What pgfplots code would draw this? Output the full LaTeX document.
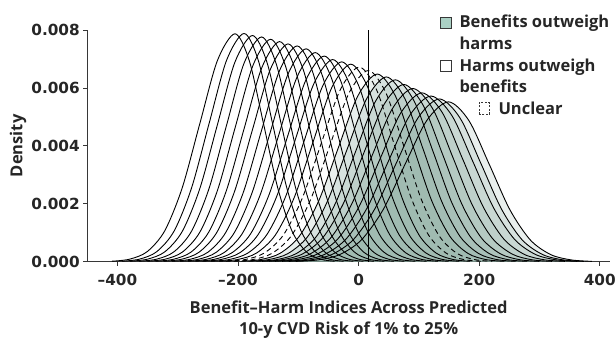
\documentclass[border=0pt]{standalone}
\usepackage{fontspec}
\setmainfont{Open Sans}
\newfontfamily\tickfont{DejaVu Sans}
\usepackage{pgfplots}
\usepackage{pgfplotstable}
\pgfplotsset{compat=1.18}
\definecolor{bfill}{RGB}{145,176,165}
\definecolor{legfill}{RGB}{170,208,196}
\definecolor{axgray}{RGB}{55,55,55}
\newcommand\lf{\fontsize{16.5}{21.5}\selectfont\bfseries}
\newcommand\tf{\tickfont\fontsize{15.3}{18}\selectfont\bfseries}

% harms outweigh benefits
\pgfplotstableread{
x y
-409.1 0.000017
-379.9 0.000087
-350.8 0.000345
-321.6 0.001065
-292.5 0.002555
-263.3 0.004773
-234.2 0.006945
-205.0 0.007870
-181.4 0.006945
-157.8 0.004773
-134.2 0.002555
-110.6 0.001065
-87.0 0.000345
-63.4 0.000087
-39.8 0.000017
}\dA
\pgfplotstableread{
x y
-392.7 0.000017
-363.7 0.000087
-334.8 0.000346
-305.8 0.001066
-276.9 0.002559
-247.9 0.004779
-219.0 0.006954
-190.0 0.007880
-166.4 0.006954
-142.8 0.004779
-119.2 0.002559
-95.6 0.001066
-72.0 0.000346
-48.4 0.000087
-24.8 0.000017
}\dB
\pgfplotstableread{
x y
-379.4 0.000017
-350.3 0.000087
-321.3 0.000343
-292.2 0.001057
-263.2 0.002536
-234.1 0.004737
-205.1 0.006892
-176.0 0.007810
-152.1 0.006892
-128.2 0.004737
-104.3 0.002536
-80.4 0.001057
-56.5 0.000343
-32.6 0.000087
-8.7 0.000017
}\dC
\pgfplotstableread{
x y
-364.4 0.000017
-335.3 0.000086
-306.3 0.000341
-277.2 0.001050
-248.2 0.002520
-219.1 0.004706
-190.1 0.006848
-161.0 0.007760
-136.9 0.006848
-112.7 0.004706
-88.6 0.002520
-64.4 0.001050
-40.3 0.000341
-16.1 0.000086
8.1 0.000017
}\dD
\pgfplotstableread{
x y
-350.4 0.000017
-321.2 0.000085
-292.0 0.000337
-262.8 0.001039
-233.6 0.002494
-204.4 0.004658
-175.2 0.006778
-146.0 0.007680
-121.6 0.006778
-97.1 0.004658
-72.7 0.002494
-48.2 0.001039
-23.8 0.000337
0.7 0.000085
25.2 0.000017
}\dE
\pgfplotstableread{
x y
-336.5 0.000017
-307.1 0.000084
-277.8 0.000334
-248.4 0.001028
-219.1 0.002468
-189.7 0.004609
-160.4 0.006707
-131.0 0.007600
-106.2 0.006707
-81.4 0.004609
-56.6 0.002468
-31.8 0.001028
-7.0 0.000334
17.8 0.000084
42.6 0.000017
}\dF
\pgfplotstableread{
x y
-323.5 0.000016
-294.0 0.000083
-264.5 0.000330
-235.0 0.001017
-205.5 0.002442
-176.0 0.004561
-146.5 0.006636
-117.0 0.007520
-91.9 0.006636
-66.8 0.004561
-41.7 0.002442
-16.6 0.001017
8.5 0.000330
33.6 0.000083
58.7 0.000016
}\dG
\pgfplotstableread{
x y
-309.2 0.000016
-279.6 0.000083
-250.0 0.000327
-220.4 0.001008
-190.8 0.002419
-161.2 0.004518
-131.6 0.006575
-102.0 0.007450
-76.6 0.006575
-51.2 0.004518
-25.8 0.002419
-0.4 0.001008
25.0 0.000327
50.4 0.000083
75.8 0.000016
}\dH
\pgfplotstableread{
x y
-296.0 0.000016
-266.1 0.000082
-236.3 0.000323
-206.4 0.000994
-176.6 0.002387
-146.7 0.004458
-116.9 0.006486
-87.0 0.007350
-61.2 0.006486
-35.3 0.004458
-9.5 0.002387
16.4 0.000994
42.3 0.000323
68.1 0.000082
94.0 0.000016
}\dI
\pgfplotstableread{
x y
-283.4 0.000016
-253.2 0.000080
-223.0 0.000317
-192.8 0.000977
-162.6 0.002344
-132.4 0.004379
-102.2 0.006372
-72.0 0.007220
-45.6 0.006372
-19.2 0.004379
7.2 0.002344
33.6 0.000977
60.0 0.000317
86.4 0.000080
112.8 0.000016
}\dJ
\pgfplotstableread{
x y
-270.9 0.000016
-240.3 0.000079
-209.8 0.000312
-179.2 0.000961
-148.7 0.002305
-118.1 0.004306
-87.6 0.006266
-57.0 0.007100
-30.1 0.006266
-3.1 0.004306
23.9 0.002305
50.8 0.000961
77.8 0.000312
104.7 0.000079
131.7 0.000016
}\dK
\pgfplotstableread{
x y
-259.0 0.000015
-228.1 0.000077
-197.3 0.000306
-166.4 0.000944
-135.6 0.002266
-104.7 0.004233
-73.9 0.006160
-43.0 0.006980
-15.6 0.006160
11.9 0.004233
39.4 0.002266
66.8 0.000944
94.3 0.000306
121.7 0.000077
149.2 0.000015
}\dL
\pgfplotstableread{
x y
-245.4 0.000015
-214.3 0.000077
-183.3 0.000303
-152.2 0.000934
-121.2 0.002240
-90.1 0.004185
-59.1 0.006089
-28.0 0.006900
-0.1 0.006089
27.8 0.004185
55.7 0.002240
83.6 0.000934
111.5 0.000303
139.4 0.000077
167.3 0.000015
}\dM
\pgfplotstableread{
x y
-231.8 0.000015
-200.5 0.000076
-169.3 0.000299
-138.0 0.000923
-106.8 0.002214
-75.5 0.004136
-44.3 0.006019
-13.0 0.006820
15.3 0.006019
43.6 0.004136
71.9 0.002214
100.2 0.000923
128.5 0.000299
156.8 0.000076
185.1 0.000015
}\dN
% unclear
\pgfplotstableread{
x y
-219.9 0.000015
-188.3 0.000075
-156.8 0.000295
-125.2 0.000909
-93.7 0.002182
-62.1 0.004076
-30.6 0.005930
1.0 0.006720
29.9 0.005930
58.7 0.004076
87.6 0.002182
116.4 0.000909
145.3 0.000295
174.1 0.000075
203.0 0.000015
}\dO
\pgfplotstableread{
x y
-207.3 0.000014
-175.4 0.000073
-143.5 0.000290
-111.6 0.000893
-79.7 0.002143
-47.8 0.004003
-15.9 0.005824
16.0 0.006600
45.4 0.005824
74.8 0.004003
104.2 0.002143
133.6 0.000893
163.0 0.000290
192.4 0.000073
221.8 0.000014
}\dP
% benefits outweigh harms
\pgfplotstableread{
x y
-195.5 0.000014
-163.1 0.000072
-130.8 0.000284
-98.4 0.000877
-66.1 0.002104
-33.7 0.003930
-1.4 0.005719
31.0 0.006480
61.1 0.005719
91.2 0.003930
121.3 0.002104
151.4 0.000877
181.5 0.000284
211.6 0.000072
241.7 0.000014
}\dQ
\pgfplotstableread{
x y
-182.6 0.000014
-149.9 0.000071
-117.3 0.000280
-84.6 0.000863
-52.0 0.002072
-19.3 0.003869
13.4 0.005630
46.0 0.006380
76.7 0.005630
107.3 0.003869
138.0 0.002072
168.6 0.000863
199.3 0.000280
229.9 0.000071
260.6 0.000014
}\dR
\pgfplotstableread{
x y
-169.7 0.000014
-136.7 0.000070
-103.8 0.000276
-70.8 0.000850
-37.9 0.002039
-4.9 0.003809
28.1 0.005542
61.0 0.006280
92.2 0.005542
123.4 0.003809
154.6 0.002039
185.8 0.000850
217.0 0.000276
248.2 0.000070
279.4 0.000014
}\dS
\pgfplotstableread{
x y
-160.2 0.000013
-126.6 0.000068
-93.0 0.000269
-59.4 0.000828
-25.8 0.001987
7.8 0.003712
41.4 0.005401
75.0 0.006120
107.1 0.005401
139.2 0.003712
171.3 0.001987
203.4 0.000828
235.5 0.000269
267.6 0.000068
299.7 0.000013
}\dT
\pgfplotstableread{
x y
-149.4 0.000013
-115.2 0.000066
-81.0 0.000263
-46.8 0.000809
-12.6 0.001942
21.6 0.003627
55.8 0.005277
90.0 0.005980
123.0 0.005277
155.9 0.003627
188.9 0.001942
221.8 0.000809
254.8 0.000263
287.7 0.000066
320.7 0.000013
}\dU
\pgfplotstableread{
x y
-139.0 0.000013
-104.1 0.000065
-69.3 0.000256
-34.4 0.000789
0.5 0.001893
35.3 0.003536
70.2 0.005145
105.0 0.005830
138.9 0.005145
172.8 0.003536
206.7 0.001893
240.6 0.000789
274.5 0.000256
308.4 0.000065
342.3 0.000013
}\dV
\pgfplotstableread{
x y
-127.1 0.000013
-91.8 0.000063
-56.5 0.000251
-21.2 0.000774
14.1 0.001857
49.4 0.003469
84.7 0.005048
120.0 0.005720
154.7 0.005048
189.3 0.003469
224.0 0.001857
258.6 0.000774
293.3 0.000251
327.9 0.000063
362.6 0.000013
}\dW
\pgfplotstableread{
x y
-115.9 0.000012
-80.2 0.000062
-44.5 0.000247
-8.8 0.000760
26.9 0.001825
62.6 0.003409
98.3 0.004960
134.0 0.005620
168.3 0.004960
202.5 0.003409
236.8 0.001825
271.0 0.000760
305.3 0.000247
339.5 0.000062
373.8 0.000012
}\dX
\pgfplotstableread{
x y
-104.1 0.000012
-67.9 0.000061
-31.8 0.000242
4.4 0.000747
40.6 0.001792
76.7 0.003348
112.9 0.004871
149.0 0.005520
183.0 0.004871
217.0 0.003348
251.0 0.001792
285.0 0.000747
319.0 0.000242
353.0 0.000061
387.0 0.000012
}\dY

\pgfplotsset{
  cline/.style={black, line width=0.9pt, smooth, mark=none},
  dline/.style={black, line width=0.9pt, smooth, mark=none, dash pattern=on 5pt off 3.5pt},
  cfill/.style={draw=none, fill=bfill, fill opacity=0.2, smooth, mark=none},
}

\begin{document}
\begin{tikzpicture}
\useasboundingbox (0,0) rectangle (615pt,338pt);
\begin{axis}[
  at={(87.3pt,76.3pt)}, anchor=south west,
  scale only axis, width=522.7pt, height=231.7pt,
  xmin=-450, xmax=417, ymin=0, ymax=0.008,
  axis lines=left,
  axis line style={-, axgray, line width=0.8pt},
  xtick={-400,-200,0,200,400},
  xticklabels={\textendash400,\textendash200,0,200,400},
  ytick={0,0.002,0.004,0.006,0.008},
  yticklabels={0.000,0.002,0.004,0.006,0.008},
  scaled y ticks=false,
  tick align=outside, major tick length=4pt,
  tick style={axgray, line width=0.8pt},
  tick label style={font=\tf, text=black!85},
  xticklabel style={yshift=-5pt},
  label style={font=\lf, text=black!85},
  xlabel={Benefit\textendash Harm Indices Across Predicted\\10-y CVD Risk of 1\% to 25\%},
  xlabel style={at={(axis description cs:0.5,0)}, anchor=north, yshift=-38.5pt, align=center, inner sep=0pt},
  ylabel={Density},
  ylabel style={at={(axis description cs:-0.1326,0.5)}, anchor=center, inner sep=0pt},
]
% fills for benefit curves
\addplot[cfill] table {\dQ} \closedcycle;
\addplot[cfill] table {\dR} \closedcycle;
\addplot[cfill] table {\dS} \closedcycle;
\addplot[cfill] table {\dT} \closedcycle;
\addplot[cfill] table {\dU} \closedcycle;
\addplot[cfill] table {\dV} \closedcycle;
\addplot[cfill] table {\dW} \closedcycle;
\addplot[cfill] table {\dX} \closedcycle;
\addplot[cfill] table {\dY} \closedcycle;
% harm curves
\addplot[cline] table {\dA};
\addplot[cline] table {\dB};
\addplot[cline] table {\dC};
\addplot[cline] table {\dD};
\addplot[cline] table {\dE};
\addplot[cline] table {\dF};
\addplot[cline] table {\dG};
\addplot[cline] table {\dH};
\addplot[cline] table {\dI};
\addplot[cline] table {\dJ};
\addplot[cline] table {\dK};
\addplot[cline] table {\dL};
\addplot[cline] table {\dM};
\addplot[cline] table {\dN};
% unclear
\addplot[dline] table {\dO};
\addplot[dline] table {\dP};
% benefit outlines
\addplot[cline] table {\dQ};
\addplot[cline] table {\dR};
\addplot[cline] table {\dS};
\addplot[cline] table {\dT};
\addplot[cline] table {\dU};
\addplot[cline] table {\dV};
\addplot[cline] table {\dW};
\addplot[cline] table {\dX};
\addplot[cline] table {\dY};
% reference line
\addplot[black, line width=0.9pt, mark=none] coordinates {(16,0) (16,0.008)};
\end{axis}
% legend
\draw[fill=legfill, draw=axgray, line width=0.7pt] (440.7pt,309.7pt) rectangle (451.7pt,320.7pt);
\node[anchor=base west, inner sep=0pt, font=\lf, text=black!85] at (459.3pt,310.7pt) {Benefits outweigh};
\node[anchor=base west, inner sep=0pt, font=\lf, text=black!85] at (459.3pt,288pt) {harms};
\draw[fill=white, draw=axgray, line width=0.7pt] (440.7pt,267pt) rectangle (451.7pt,278pt);
\node[anchor=base west, inner sep=0pt, font=\lf, text=black!85] at (459.3pt,266pt) {Harms outweigh};
\node[anchor=base west, inner sep=0pt, font=\lf, text=black!85] at (459.3pt,245pt) {benefits};
\draw[draw=axgray, line width=0.7pt, dash pattern=on 2pt off 1.5pt] (479pt,223.7pt) rectangle (489.3pt,235.3pt);
\node[anchor=base west, inner sep=0pt, font=\lf, text=black!85] at (498.3pt,224pt) {Unclear};
\end{tikzpicture}
\end{document}
